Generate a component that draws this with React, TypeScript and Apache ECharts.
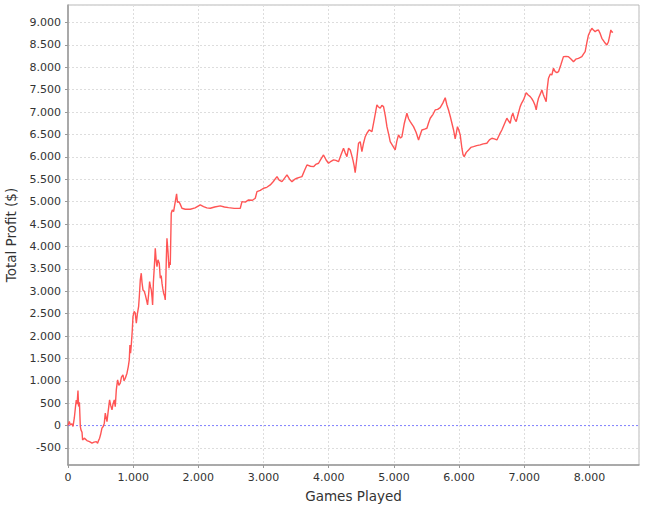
import React, { useEffect, useRef } from "react";
import * as echarts from "echarts";

const games: number[] = [0,20,35,60,77,97,115,127,140,153,163,175,189,199,215,224,250,290,330,368,400,434,454,470,485,500,521,540,557,572,585,598,615,638,655,675,690,710,725,741,761,780,802,820,843,860,879,905,925,940,950,960,971,985,997,1015,1032,1048,1065,1083,1095,1109,1124,1135,1150,1170,1186,1205,1221,1235,1252,1265,1278,1290,1298,1310,1329,1339,1352,1365,1380,1400,1416,1430,1442,1455,1467,1480,1492,1500,1508,1518,1534,1549,1560,1569,1584,1600,1620,1646,1666,1680,1700,1720,1748,1799,1876,1950,2029,2080,2130,2183,2250,2336,2400,2463,2550,2643,2669,2720,2770,2830,2873,2899,2950,3000,3050,3103,3150,3206,3240,3282,3320,3359,3400,3436,3480,3512,3550,3589,3630,3666,3720,3767,3800,3844,3880,3920,3960,3997,4035,4074,4110,4150,4190,4227,4250,4279,4304,4330,4350,4371,4390,4406,4430,4457,4483,4509,4534,4560,4586,4620,4663,4700,4739,4760,4790,4815,4841,4870,4893,4920,4943,4980,5020,5045,5071,5100,5123,5160,5199,5225,5250,5301,5340,5378,5405,5429,5470,5506,5530,5557,5600,5633,5670,5710,5750,5787,5813,5838,5865,5890,5915,5940,5960,5975,5995,6017,6043,6060,6078,6110,6145,6180,6221,6270,6324,6370,6426,6465,6503,6540,6580,6620,6656,6700,6733,6760,6784,6805,6825,6850,6876,6905,6937,6960,6988,7029,7060,7091,7115,7142,7165,7183,7200,7218,7245,7270,7290,7305,7336,7350,7371,7400,7423,7448,7474,7500,7525,7560,7601,7640,7678,7720,7755,7790,7831,7860,7883,7910,7934,7960,7985,8010,8037,8060,8088,8110,8138,8165,8190,8230,8267,8291,8310,8328,8345,8359];

const profit: number[] = [0,90,15,40,-20,170,420,570,480,780,425,520,-20,-96,-150,-320,-280,-335,-360,-393,-370,-357,-393,-330,-281,-200,-58,-20,54,277,180,90,300,574,450,350,480,574,420,797,1020,900,946,1080,1132,1000,1058,1170,1317,1466,1800,1616,1800,2100,2433,2550,2509,2286,2500,2656,2900,3252,3402,3200,3029,3000,2917,2800,2694,2900,3214,3100,3029,2850,2694,3200,3661,3960,3700,3549,3700,3625,3290,3350,3179,3050,2955,2900,2806,3200,3699,4183,3884,3513,3650,3587,4741,4815,4777,5000,5172,4980,5000,4950,4852,4830,4830,4860,4926,4889,4860,4852,4880,4904,4880,4866,4850,4852,5000,4990,5038,5030,5076,5223,5250,5299,5320,5373,5450,5558,5480,5446,5520,5596,5500,5446,5500,5522,5540,5558,5700,5819,5790,5781,5830,5857,5950,6042,5930,5857,5900,5931,5920,5893,6050,6192,6100,6004,6192,6154,6050,5931,5800,5647,5950,6304,6339,6116,6304,6450,6527,6600,6562,6850,7158,7120,7085,7150,7121,6900,6674,6500,6339,6250,6154,6350,6489,6420,6451,6750,6973,6850,6786,6674,6550,6377,6500,6600,6620,6638,6750,6862,6950,7047,7060,7100,7200,7320,7158,7047,6900,6750,6600,6400,6550,6674,6600,6489,6192,6050,6004,6100,6154,6210,6228,6250,6266,6290,6304,6380,6415,6400,6377,6500,6600,6750,6862,6800,6750,6900,6973,6850,6786,6950,7121,7200,7270,7433,7380,7344,7300,7232,7150,7047,7200,7308,7400,7493,7400,7344,7232,7500,7754,7850,7828,7977,7902,7880,7902,8050,8237,8240,8237,8180,8125,8180,8200,8220,8237,8300,8348,8550,8721,8800,8870,8830,8795,8820,8833,8750,8647,8560,8498,8571,8700,8833,8780,8795];

const xMin = 0;
const xMax = 8760;
const yMin = -880;
const yMax = 9390;
const zeroValue = 0;

const xAxisTitle = "Games Played";
const yAxisTitle = "Total Profit ($)";

const fmt = (v: number): string => {
  const neg = v < 0;
  const s = String(Math.abs(Math.round(v))).replace(/\B(?=(\d{3})+(?!\d))/g, ".");
  return (neg ? "-" : "") + s;
};

export default function App() {
  const ref = useRef<HTMLDivElement>(null);
  useEffect(() => {
    if (!ref.current) return;
    const chart = echarts.init(ref.current, null, { renderer: "svg" });
    const data = games.map((g, i) => [g, profit[i]]);
    const font = "DejaVu Sans";
    const blue = "#8080ff";
    chart.setOption({
      animation: false,
      backgroundColor: "#ffffff",
      grid: {
        left: 68,
        right: 8,
        top: 5,
        bottom: 48,
        containLabel: false,
        outerBoundsMode: "none",
        show: true,
        borderColor: "#b8b8b8",
        borderWidth: 1,
        backgroundColor: "#ffffff",
      },
      xAxis: {
        type: "value",
        min: xMin,
        max: xMax,
        minInterval: 1000,
        maxInterval: 1000,
        splitNumber: 9,
        name: xAxisTitle,
        nameLocation: "middle",
        nameGap: 24,
        nameTextStyle: { fontFamily: font, fontSize: 13.5, color: "#333333" },
        axisLine: { show: true, onZero: false, lineStyle: { color: "#999999", width: 1.5 } },
        axisTick: { show: true, length: 3, lineStyle: { color: "#999999" } },
        axisLabel: {
          fontFamily: font,
          fontSize: 11,
          color: "#333333",
          margin: 7,
          showMaxLabel: false,
          formatter: (v: number) => (v % 1000 === 0 ? fmt(v) : ""),
        },
        splitLine: { show: true, lineStyle: { color: "#dddddd", type: [2, 2], width: 1 } },
      },
      yAxis: {
        type: "value",
        min: yMin,
        max: yMax,
        minInterval: 500,
        maxInterval: 500,
        splitNumber: 20,
        name: yAxisTitle,
        nameLocation: "middle",
        nameGap: 50,
        nameTextStyle: { fontFamily: font, fontSize: 13.5, color: "#333333" },
        axisLine: { show: true, onZero: false, lineStyle: { color: "#999999", width: 1.5 } },
        axisTick: { show: true, length: 3, lineStyle: { color: "#999999" } },
        axisLabel: {
          fontFamily: font,
          fontSize: 11,
          color: "#333333",
          margin: 7,
          showMinLabel: false,
          showMaxLabel: false,
          formatter: (v: number) => (v % 500 === 0 ? fmt(v) : ""),
        },
        splitLine: { show: true, lineStyle: { color: "#dddddd", type: [2, 2], width: 1 } },
      },
      series: [
        {
          type: "line",
          data: [
            [xMin, zeroValue],
            [xMax, zeroValue],
          ],
          showSymbol: false,
          symbol: "none",
          silent: true,
          color: blue,
          lineStyle: { color: blue, type: [2, 2], width: 1 },
          itemStyle: { color: blue },
          z: 1,
        },
        {
          type: "line",
          data,
          showSymbol: false,
          symbol: "none",
          lineStyle: { color: "#ff5555", width: 1.4 },
          itemStyle: { color: "#ff5555" },
          z: 5,
        },
      ],
    });
    return () => chart.dispose();
  }, []);
  return (
    <div
      ref={ref}
      style={{ position: "fixed", left: 0, top: 0, width: 647, height: 513, background: "#fff" }}
    />
  );
}
